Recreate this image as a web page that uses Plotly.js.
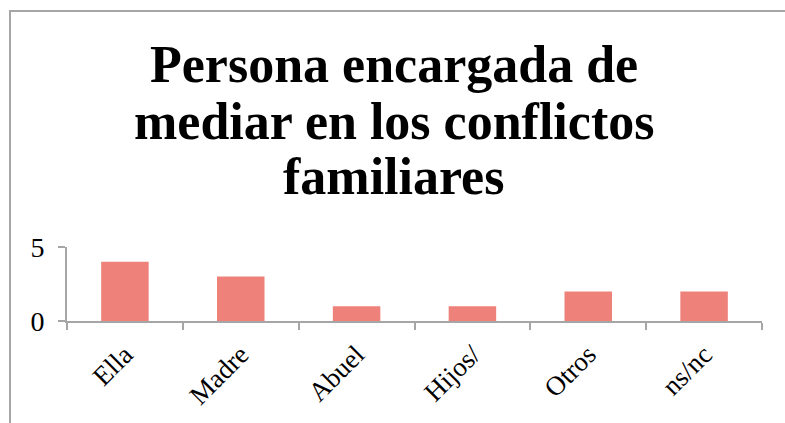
<!DOCTYPE html>
<html>
<head>
<meta charset="utf-8">
<script src="https://cdn.plot.ly/plotly-3.0.1.min.js"></script>
<style>
html,body{margin:0;padding:0;background:#fff;width:785px;height:423px;overflow:hidden;}
#frame{position:absolute;left:9px;top:10px;width:776px;height:413px;border-top:2px solid #a6a6a6;border-left:2px solid #a6a6a6;}
#chart{width:774px;height:411px;}
</style>
</head>
<body>
<div id="frame"><div id="chart"></div></div>
<script>
const categories = ["Ella", "Madre", "Abuel", "Hijos/", "Otros", "ns/nc"];
const values = [4, 3, 1, 1, 2, 2];
const titleLines = ["Persona encargada de", "mediar en los conflictos", "familiares"];
const yTicks = [0, 5];

const trace = {
  type: "bar",
  x: categories,
  y: values,
  width: 0.41,
  marker: {color: "#ee8179", line: {width: 0}},
  hoverinfo: "x+y"
};

const titleY = [3.46, 2.69, 1.95];
const annotations = titleLines.map((t, i) => ({
  text: "<b>" + t + "</b>",
  xref: "paper", yref: "paper",
  x: 0.4705, y: titleY[i],
  xanchor: "center", yanchor: "middle",
  showarrow: false,
  font: {family: "Liberation Serif, serif", size: 52, color: "#000000"}
}));

const layout = {
  width: 774,
  height: 411,
  margin: {l: 56, r: 23, t: 235, b: 102, pad: 0},
  paper_bgcolor: "#ffffff",
  plot_bgcolor: "#ffffff",
  showlegend: false,
  annotations: annotations,
  xaxis: {
    type: "category",
    tickangle: -45,
    tickson: "boundaries",
    ticks: "outside",
    ticklen: 7,
    tickwidth: 2,
    tickcolor: "#a6a6a6",
    ticklabelstandoff: 5,
    showline: true,
    linecolor: "#a6a6a6",
    linewidth: 2,
    showgrid: false,
    tickfont: {family: "Liberation Serif, serif", size: 27, color: "#000"},
    fixedrange: true
  },
  yaxis: {
    range: [0, 5],
    tickvals: yTicks,
    ticktext: yTicks.map(String),
    ticks: "outside",
    ticklen: 7,
    tickwidth: 2,
    tickcolor: "#a6a6a6",
    ticklabelstandoff: 8,
    showline: true,
    linecolor: "#a6a6a6",
    linewidth: 2,
    showgrid: true,
    gridcolor: "#a6a6a6",
    gridwidth: 2,
    zeroline: false,
    tickfont: {family: "Liberation Serif, serif", size: 28, color: "#000"},
    fixedrange: true
  },
  bargap: 0.59
};

Plotly.newPlot("chart", [trace], layout, {displayModeBar: false, staticPlot: true});
</script>
</body>
</html>
